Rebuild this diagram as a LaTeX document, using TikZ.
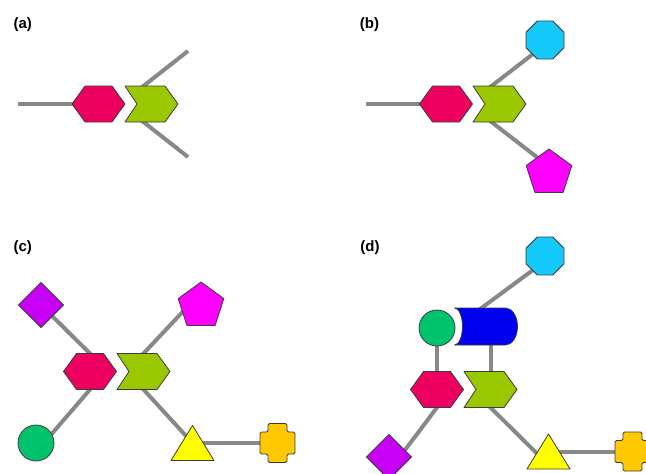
\documentclass[tikz,border=0pt]{standalone}
\usepackage{fontspec}
\setmainfont{Liberation Sans}
\usetikzlibrary{shapes.geometric}
\pgfdeclarelayer{bg}
\pgfsetlayers{bg,main}
\definecolor{hexc}{RGB}{238,0,96}
\definecolor{chevc}{RGB}{153,200,0}
\definecolor{octc}{RGB}{20,200,250}
\definecolor{pentc}{RGB}{255,0,255}
\definecolor{diac}{RGB}{200,0,245}
\definecolor{circc}{RGB}{0,195,110}
\definecolor{tric}{RGB}{255,255,0}
\definecolor{crossc}{RGB}{255,200,0}
\definecolor{cylc}{RGB}{0,0,240}
\definecolor{edgec}{RGB}{60,60,60}
\definecolor{linegray}{RGB}{136,136,136}
\tikzset{
  shp/.style={draw=edgec, line width=0.8pt, line join=round},
  conn/.style={draw=linegray, line width=4pt},
  ext/.style={shorten <=-4pt, shorten >=-4pt},
  exte/.style={shorten >=-4pt},
  lbl/.style={font=\bfseries\fontsize{15}{18}\selectfont, inner sep=0pt},
  octn/.style={shp, fill=octc, regular polygon, regular polygon sides=8, minimum size=41pt, inner sep=0pt, outer sep=0pt},
  pentn/.style={shp, fill=pentc, regular polygon, regular polygon sides=5, minimum size=48pt, inner sep=0pt, outer sep=0pt},
  dian/.style={shp, fill=diac, diamond, minimum width=45pt, minimum height=45pt, inner sep=0pt, outer sep=0pt},
  circn/.style={shp, fill=circc, circle, minimum size=36pt, inner sep=0pt, outer sep=0pt},
  hexa/.pic={
    \path[shp, fill=hexc] (-26.5,0) -- (-13.5,-18) -- (13.5,-18) -- (26.5,0) -- (13.5,18) -- (-13.5,18) -- cycle;
    \coordinate (-n) at (0,-18); \coordinate (-s) at (0,18); \coordinate (-w) at (-26.5,0);
  },
  chev/.pic={
    \path[shp, fill=chevc] (-26.5,-18) -- (13.5,-18) -- (26.5,0) -- (13.5,18) -- (-26.5,18) -- (-14.5,0) -- cycle;
    \coordinate (-n) at (0,-18); \coordinate (-s) at (0,18);
    \coordinate (-nl) at (-8,-18); \coordinate (-sl) at (-8,18);
  },
  tri/.pic={
    \path[shp, fill=tric] (0,-17.5) -- (21.5,17.5) -- (-21.5,17.5) -- cycle;
    \coordinate (-c) at (0,0); \coordinate (-lo) at (-5,8.5);
  },
  crossp/.pic={
    \path[shp, fill=crossc, rounded corners=1.5pt] (-9.5,-19.5) -- (9.5,-19.5) -- (9.5,-11) -- (17.5,-11) -- (17.5,11) -- (9.5,11) -- (9.5,19.5) -- (-9.5,19.5) -- (-9.5,11) -- (-17.5,11) -- (-17.5,-11) -- (-9.5,-11) -- cycle;
    \coordinate (-c) at (0,0);
  },
  cylp/.pic={
    \path[shp, fill=cylc] (-31.5,-18.5) -- (19.5,-18.5)
      .. controls (26.1,-18.5) and (31.5,-10.2) .. (31.5,0)
      .. controls (31.5,10.2) and (26.1,18.5) .. (19.5,18.5)
      -- (-31.5,18.5)
      .. controls (-27.1,18.5) and (-23.5,10.2) .. (-23.5,0)
      .. controls (-23.5,-10.2) and (-27.1,-18.5) .. (-31.5,-18.5) -- cycle;
    \coordinate (-n) at (-4.5,-18.5); \coordinate (-s) at (4.5,18.5);
  }
}
\begin{document}
\begin{tikzpicture}[x=1pt,y=-1pt]
\useasboundingbox (0,0) rectangle (646,474);

% labels
\node[lbl] (la) at (22.7,25) {(a)};
\node[lbl] (lb) at (369.5,24.5) {(b)};
\node[lbl] (lc) at (22.8,247.8) {(c)};
\node[lbl] (ld) at (370,247.8) {(d)};

% (a)
\pic (hA) at (98.5,104) {hexa};
\pic (cA) at (151.5,104) {chev};
\coordinate (a0) at (18,104);
\coordinate (a1) at (188,51);
\coordinate (a2) at (188,157);

% (b)
\pic (hB) at (446,104) {hexa};
\pic (cB) at (499.5,104) {chev};
\node[octn] (octB) at (545,40) {};
\node[pentn] (pentB) at (549,173) {};
\coordinate (b0) at (366,104);

% (c)
\pic (hC) at (90,371.5) {hexa};
\pic (cC) at (143.5,371.5) {chev};
\node[dian] (diaC) at (41,305) {};
\node[pentn] (pentC) at (201,306) {};
\node[circn] (circC) at (36,443) {};
\pic (tC) at (192.5,443) {tri};
\pic (crC) at (277.5,443) {crossp};

% (d)
\node[octn] (octD) at (545,256) {};
\node[circn] (circD) at (437,328) {};
\pic (cyD) at (486,326.5) {cylp};
\pic (hD) at (437,389.5) {hexa};
\pic (cD) at (490.5,389.5) {chev};
\node[dian] (diaD) at (389,457) {};
\pic (tD) at (548.5,451.5) {tri};
\pic (crD) at (632.5,451.5) {crossp};

\begin{pgfonlayer}{bg}
  % (a)
  \draw[conn, exte] (a0) -- (hA-w);
  \draw[conn, shorten <=-4pt] (cA-nl) -- (a1);
  \draw[conn, shorten <=-4pt] (cA-sl) -- (a2);
  % (b)
  \draw[conn, exte] (b0) -- (hB-w);
  \draw[conn, ext] (cB-nl) -- (octB.229);
  \draw[conn, ext] (cB-sl) -- (pentB.127);
  % (c)
  \draw[conn, ext] (diaC) -- (hC-n);
  \draw[conn, ext] (cC-n) -- (pentC.198);
  \draw[conn, ext] (hC-s) -- (circC.30);
  \draw[conn, ext] (cC-s) -- (tC-c);
  \draw[conn] (tC-c) -- (crC-c);
  % (d)
  \draw[conn, ext] (cyD-n) -- (octD.229);
  \draw[conn, ext] (circD) -- (hD-n);
  \draw[conn, ext] (cyD-s) -- (cD-n);
  \draw[conn, ext] (hD-s) -- (diaD.23);
  \draw[conn, ext] (cD-s) -- (tD-lo);
  \draw[conn] (tD-c) -- (crD-c);
\end{pgfonlayer}
\end{tikzpicture}
\end{document}
